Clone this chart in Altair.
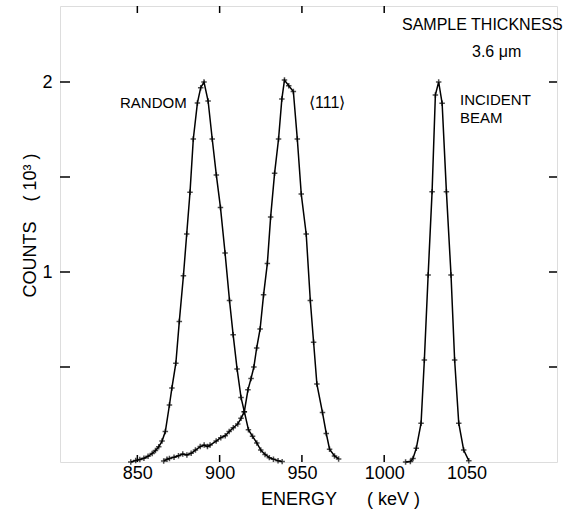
import altair as alt
import pandas as pd

# ---- data (energy in keV, counts in 10^3) ----
random_energy = [846, 849, 851.5, 854, 856.5, 859, 861, 863, 865, 867, 869.5, 871, 873.4,
                 875.5, 878, 880, 882, 884, 886.5, 888.5, 890.5, 893, 895.5, 898, 900.5,
                 903.3, 906, 908.2, 910.6, 913, 915, 917.5, 920, 922.6, 925, 927.6, 930.2,
                 932.7, 935.5, 938]
random_counts = [0.0, 0.008, 0.013, 0.02, 0.03, 0.045, 0.06, 0.08, 0.11, 0.16, 0.30, 0.39, 0.52,
                 0.74, 0.98, 1.20, 1.42, 1.70, 1.89, 1.97, 2.0, 1.90, 1.70, 1.51, 1.34,
                 1.10, 0.85, 0.67, 0.49, 0.34, 0.265, 0.17, 0.135, 0.10, 0.063, 0.04, 0.023,
                 0.015, 0.007, 0.002]

axial_energy = [866, 868, 869.5, 872.3, 875, 877.6, 880.1, 882.7, 885.3, 888.2, 890.6, 892.6,
                894.2, 897.9, 900.7, 903.4, 905.8, 908.3, 911, 913, 915, 917.2, 919.1, 920.8,
                922.5, 924.6, 926.7, 929, 931, 933.4, 935.8, 937.8, 939.4, 942, 944.8, 947.2,
                949.6, 952.6, 955.1, 957.1, 959.1, 962.5, 964.8, 966.8, 969.8, 972.3]
axial_counts = [0.005, 0.014, 0.019, 0.025, 0.033, 0.042, 0.037, 0.046, 0.063, 0.081, 0.089, 0.081,
                0.089, 0.11, 0.128, 0.138, 0.16, 0.18, 0.20, 0.23, 0.265, 0.38, 0.44, 0.50,
                0.60, 0.70, 0.88, 1.045, 1.29, 1.52, 1.70, 1.91, 2.01, 1.98, 1.95, 1.70,
                1.41, 1.20, 0.85, 0.63, 0.41, 0.26, 0.15, 0.067, 0.032, 0.016]

incident_energy = [1013, 1015.9, 1017.5, 1019.5, 1022.4, 1024.4, 1026.7, 1029.1, 1031.1, 1033.1,
                   1035.2, 1037.8, 1040.6, 1042.8, 1045.3, 1048.3, 1051.4]
incident_counts = [0.0, 0.003, 0.019, 0.072, 0.204, 0.537, 0.984, 1.423, 1.932, 2.0,
                   1.888, 1.423, 0.984, 0.537, 0.204, 0.063, 0.007]

x_tick_labels = [850, 900, 950, 1000, 1050]
x_tick_marks = [850, 900, 950, 1000]
y_tick_labels = [1, 2]
y_tick_marks = [0.5, 1, 1.5, 2]

rows = []
for name, es, cs in [("random", random_energy, random_counts),
                     ("111", axial_energy, axial_counts),
                     ("incident", incident_energy, incident_counts)]:
    for e, c in zip(es, cs):
        rows.append({"series": name, "energy": e, "counts": c})
df = pd.DataFrame(rows)

W, H = 497, 456
FONT = "Liberation Sans"
NB = "\u00a0"

xscale = alt.Scale(domain=[803, 1105], nice=False, zero=False)
yscale = alt.Scale(domain=[0, 2.4], nice=False, zero=False)

xaxis = alt.Axis(values=x_tick_labels, format="d", ticks=False, domain=False, grid=False,
                 labelFontSize=18, labelFont=FONT, labelColor="black", labelPadding=2,
                 title="ENERGY" + NB * 6 + "(" + NB + "keV" + NB + ")",
                 titleFont=FONT, titleFontSize=18,
                 titleFontWeight="normal", titleColor="black",
                 titleX=280, titleY=42, titleBaseline="alphabetic", titleAlign="center")
yaxis = alt.Axis(values=y_tick_labels, format="d", ticks=False, domain=False, grid=False,
                 labelFontSize=18, labelFont=FONT, labelColor="black", labelPadding=8,
                 title="COUNTS" + NB * 4 + "(" + NB + "10³" + NB + ")",
                 titleFont=FONT, titleFontSize=18,
                 titleFontWeight="normal", titleColor="black",
                 titleX=-25, titleY=219, titleBaseline="alphabetic", titleAlign="center")

base = alt.Chart(df)
lines = base.mark_line(color="black", strokeWidth=1.5).encode(
    x=alt.X("energy:Q", scale=xscale, axis=xaxis),
    y=alt.Y("counts:Q", scale=yscale, axis=yaxis),
    detail="series:N",
)
points = base.mark_point(shape="M-1,0L1,0M0,-1L0,1", filled=False, color="black",
                         size=30, strokeWidth=1.5).encode(
    x=alt.X("energy:Q", scale=xscale),
    y=alt.Y("counts:Q", scale=yscale),
)

xt = pd.DataFrame({"energy": x_tick_marks})
yt = pd.DataFrame({"counts": y_tick_marks})
bottom_ticks = alt.Chart(xt).mark_rule(color="black", strokeWidth=1.5).encode(
    x=alt.X("energy:Q", scale=xscale), y=alt.value(H), y2=alt.value(H - 7))
top_ticks = alt.Chart(xt).mark_rule(color="black", strokeWidth=1.5).encode(
    x=alt.X("energy:Q", scale=xscale), y=alt.value(0), y2=alt.value(7))
left_ticks = alt.Chart(yt).mark_rule(color="black", strokeWidth=1.5).encode(
    y=alt.Y("counts:Q", scale=yscale), x=alt.value(0), x2=alt.value(10))
right_ticks = alt.Chart(yt).mark_rule(color="black", strokeWidth=1.5).encode(
    y=alt.Y("counts:Q", scale=yscale), x=alt.value(W), x2=alt.value(W - 8))

def label(text, x, y, size=15, align="left"):
    return alt.Chart(pd.DataFrame({"t": [text]})).mark_text(
        font=FONT, fontSize=size, color="black", align=align, baseline="middle"
    ).encode(text="t:N", x=alt.value(x), y=alt.value(y))

labels = [
    label("RANDOM", 60, 97),
    label("⟨111⟩", 249, 97, size=16),
    label("INCIDENT", 400, 94),
    label("BEAM", 400, 112),
    label("SAMPLE THICKNESS", 342, 19, size=16),
    label("3.6" + NB + "μm", 412, 46, size=16),
]

chart = alt.layer(lines, points, bottom_ticks, top_ticks, left_ticks, right_ticks, *labels).properties(
    width=W, height=H,
    padding={"left": 60, "top": 6, "right": 7, "bottom": 50},
    autosize=alt.AutoSizeParams(type="none"),
).configure_view(stroke="black", strokeWidth=2).configure(background="white")

chart.save("out.html", embed_options={"renderer": "svg", "actions": False})
